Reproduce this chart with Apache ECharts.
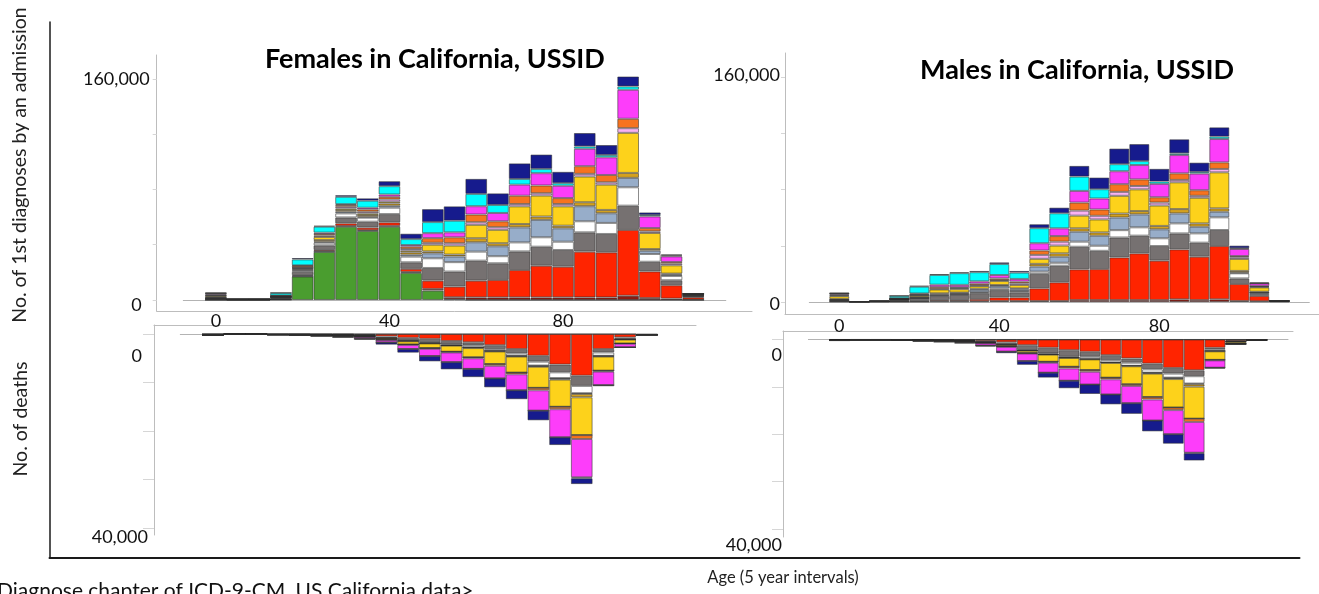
<!DOCTYPE html>
<html>
<head>
<meta charset="utf-8">
<title>Diagnoses and deaths by age, California (USSID)</title>
<script src="https://cdn.jsdelivr.net/npm/echarts@6.0.0/dist/echarts.min.js"></script>
<style>
html,body{margin:0;padding:0;background:#fff;}
#chart{width:1319px;height:594px;}
</style>
</head>
<body>
<div id="chart"></div>
<script>
// ---------------- DATA (values in thousands) ----------------
const ageGroups = ['0','5','10','15','20','25','30','35','40','45','50','55','60','65','70','75','80','85','90','95','100','105','110'];
const xTickLabels = ['0','40','80'];
const admTickValues = [0,40,80,120,160];
const admLabelValues = [0,160];
const admLabelTexts = ['0','160,000'];
const deathTickValues = [0,10,20,30,40];
const deathLabelValues = [0,40];
const deathLabelTexts = ['0','40,000'];

const chapterNames = [
  'Pregnancy & childbirth (630–679)',
  'Infectious & parasitic (001–139)',
  'Circulatory system (390–459)',
  'Neoplasms (140–239)',
  'Endocrine & metabolic (240–279)',
  'Digestive system (520–579)',
  'Genitourinary system (580–629)',
  'Respiratory system (460–519)',
  'Nervous system (320–389)',
  'Mental disorders (290–319)',
  'Musculoskeletal (710–739)',
  'Injury & poisoning (800–999)',
  'Symptoms & ill-defined (780–799)'
];

// Females – 1st diagnoses by an admission (ages 0..110, 5-year groups)
const fAdmPreg   = [0,0,0,0.3,17.0,34.8,53.1,50.0,53.1,19.6,6.8,0.5,0,0,0,0,0,0,0,0,0,0,0];
const fAdmInfect = [0.3,0.1,0.1,0.2,0.3,0.4,0.5,0.5,0.6,0.7,1.2,1.5,1.9,1.9,1.9,1.9,1.9,1.9,1.9,3.1,1.4,1.0,0.3];
const fAdmCirc   = [0.4,0.1,0.1,0.2,0.7,1.0,1.9,1.9,2.5,2.2,6.0,7.7,12.1,12.6,19.8,22.9,22.2,33.1,32.6,47.6,19.3,9.7,1.7];
const fAdmNeo    = [0.4,0.2,0.2,0.8,2.4,3.4,4.3,4.3,6.0,4.8,9.2,10.9,14.5,12.1,13.5,13.8,12.1,14.0,13.3,17.6,7.0,3.6,0.5];
const fAdmEndo   = [0.2,0,0,0.3,1.0,1.9,2.9,2.9,4.6,4.1,7.0,6.8,6.5,5.1,6.5,6.8,6.0,8.0,8.0,13.3,5.6,3.1,0.4];
const fAdmDig    = [0.2,0,0,0.2,0.5,0.7,1.2,0.7,1.4,1.4,3.6,4.1,6.8,7.2,10.9,12.6,9.7,10.9,7.0,6.8,2.4,1.0,0.2];
const fAdmGu     = [0.5,0,0,0.3,0.8,1.2,1.2,1.2,1.7,1.7,1.4,1.4,2.9,2.2,2.4,2.4,1.9,2.9,2.4,3.6,1.2,0.7,0.2];
const fAdmResp   = [1.0,0.1,0.1,0.3,0.5,2.2,1.2,1.2,1.2,1.2,4.8,6.5,9.7,9.7,12.8,15.2,14.0,18.6,18.3,29.0,11.6,6.0,0.7];
const fAdmNerv   = [0.3,0,0,0.1,0.3,1.0,1.2,1.2,1.7,1.2,1.4,1.7,1.9,1.9,1.7,1.7,1.7,1.9,1.7,3.4,1.2,1.2,0.1];
const fAdmMent   = [0.6,0,0,0.3,1.2,1.2,1.2,1.7,1.9,1.7,3.4,4.3,5.6,4.3,6.0,5.6,4.3,5.6,5.3,6.8,2.4,1.2,0.1];
const fAdmMusc   = [0.8,0,0,0.3,0.4,1.0,0.7,1.2,1.7,1.2,3.6,3.6,6.0,6.0,8.0,8.9,8.9,12.6,12.8,21.0,8.4,4.1,0.4];
const fAdmInj    = [0.2,0.1,0.1,1.8,4.3,4.3,5.3,5.1,6.0,4.3,8.0,8.4,8.9,5.8,4.1,3.1,1.9,1.7,1.7,2.4,1.0,0.7,0];
const fAdmSym    = [0.5,0,0.1,0.3,1.0,0.7,1.2,1.7,3.6,3.9,9.4,10.4,10.9,8.4,11.3,10.4,8.2,9.7,7.2,7.2,1.9,0.7,0.2];

// Males – 1st diagnoses by an admission
const mAdmInfect = [0.3,0.1,0.2,0.2,0.3,0.5,0.5,0.6,0.7,0.7,0.7,0.7,1.4,1.4,1.4,1.4,1.4,1.9,1.4,1.9,0.7,0.5,0.4];
const mAdmCirc   = [0.3,0.1,0.1,0.3,0.4,0.9,0.9,1.5,2.6,2.6,9.0,13.3,21.8,22.0,30.3,33.2,28.0,35.5,30.8,37.9,12.1,3.8,0.3];
const mAdmNeo    = [0.6,0.1,0.2,0.8,1.6,2.8,3.6,4.2,5.2,3.6,10.2,11.8,16.1,13.0,14.2,12.6,10.4,11.4,10.0,11.4,4.0,1.4,0];
const mAdmEndo   = [0.2,0,0,0.2,0.4,0.5,0.5,0.7,1.2,0.9,1.7,2.1,3.6,3.6,5.2,5.9,5.5,7.1,6.6,9.0,3.6,0.9,0];
const mAdmDig    = [0.2,0,0,0.2,0.4,0.6,0.7,1.7,1.7,1.2,3.6,4.3,7.1,7.1,9.0,9.2,6.4,7.1,4.7,4.0,0.5,0.2,0];
const mAdmGu     = [0.5,0,0,0.2,0.4,0.9,0.5,0.7,0.7,0.7,1.9,2.4,2.4,2.4,2.8,2.4,2.4,3.1,2.4,2.4,1.2,0.5,0];
const mAdmResp   = [2.0,0,0,0.3,1.2,2.7,2.4,1.9,2.8,2.4,3.6,5.5,9.0,9.2,12.6,15.4,14.5,19.0,18.2,25.6,8.5,3.1,0];
const mAdmNerv   = [0.5,0,0,0.1,0.2,0.5,0.7,0.5,0.7,1.2,2.8,2.8,3.6,2.6,2.8,2.4,2.1,1.7,1.4,2.4,1.2,0.4,0];
const mAdmMent   = [0.6,0,0,0.2,0.5,1.2,0.7,1.2,1.2,1.2,3.1,4.0,5.7,4.5,5.5,4.7,3.8,4.7,4.0,4.7,0.9,0.5,0];
const mAdmMusc   = [0.8,0,0,0.2,0.7,1.7,1.7,1.7,2.4,1.9,5.2,5.5,8.3,7.8,9.2,10.2,9.5,13.0,11.8,16.6,5.0,1.9,0];
const mAdmInj    = [0.1,0,0,1.7,4.8,6.9,8.3,6.5,7.8,4.5,10.7,10.7,10.2,6.6,5.0,2.8,1.7,1.2,1.2,1.7,0.5,0.1,0];
const mAdmSym    = [0.5,0,0.1,0.1,0.7,0.7,0.7,0.9,1.2,1.2,2.8,4.0,7.6,8.3,11.1,12.1,9.0,10.0,6.6,6.6,1.9,0.7,0];

// Females – deaths (ages 0..100)
const fDthInfect = [0,0,0,0,0,0,0,0,0,0,0,0,0,0,0,0,0,0,0,0,0.1];
const fDthCirc   = [0.05,0,0,0.05,0.05,0.08,0.1,0.2,0.5,0.8,1.0,1.45,1.7,2.3,3.1,4.5,6.3,8.6,3.1,0.7,0.05];
const fDthNeo    = [0.1,0.05,0.05,0.05,0.05,0.08,0.1,0.15,0.35,0.55,0.7,0.7,0.7,0.8,0.9,1.2,1.6,2.1,0.7,0.35,0];
const fDthEndo   = [0,0,0,0,0,0,0.02,0.03,0.05,0.1,0.2,0.2,0.4,0.4,0.5,0.8,1.2,1.5,0.7,0.1,0];
const fDthDig    = [0,0,0,0,0,0,0,0,0,0,0,0,0,0,0.05,0.1,0.1,0.15,0.05,0,0];
const fDthGu     = [0.05,0,0,0,0,0,0.03,0.02,0,0.05,0.05,0.05,0.1,0.1,0.1,0.15,0.2,0.7,0.1,0,0];
const fDthResp   = [0,0,0,0.03,0.05,0.08,0.12,0.2,0.3,0.65,0.95,1.25,1.9,2.6,3.3,4.35,5.6,7.8,2.9,0.8,0];
const fDthNerv   = [0,0,0,0,0,0,0,0,0,0,0,0,0,0,0,0,0,0,0,0,0];
const fDthMent   = [0,0,0,0,0,0,0.02,0.03,0.03,0.1,0.15,0.15,0.2,0.35,0.35,0.5,0.5,0.8,0.2,0.05,0];
const fDthMusc   = [0,0.03,0.03,0.04,0.12,0.16,0.2,0.35,0.5,0.85,1.5,2.0,2.2,2.6,3.3,4.2,5.8,7.9,2.8,0.75,0];
const fDthInj    = [0,0,0,0,0,0,0,0,0,0,0,0,0,0,0,0,0,0.2,0,0,0];
const fDthSym    = [0.05,0.02,0.02,0.03,0.08,0.1,0.16,0.22,0.47,0.75,1.1,1.5,1.7,1.85,1.85,2.0,1.6,1.2,0.2,0,0];

// Males – deaths (ages 0..100)
const mDthInfect = [0,0,0,0,0,0,0,0,0,0,0,0,0,0,0,0,0,0,0,0,0.05];
const mDthCirc   = [0.05,0,0,0.05,0.08,0.1,0.15,0.3,0.6,1.2,1.75,2.25,2.6,3.3,4.0,5.1,6.0,6.5,1.75,0.3,0.05];
const mDthNeo    = [0.1,0.05,0.05,0.05,0.08,0.1,0.15,0.25,0.5,1.05,1.2,1.4,1.05,1.05,0.9,1.2,1.2,1.25,0.3,0.1,0];
const mDthEndo   = [0,0,0,0,0,0,0.02,0.03,0.05,0.1,0.2,0.2,0.5,0.5,0.65,0.7,0.85,1.55,0.35,0.05,0];
const mDthDig    = [0,0,0,0,0,0,0,0,0,0,0,0,0,0,0,0.05,0.1,0.15,0.05,0,0];
const mDthGu     = [0.03,0,0,0,0,0,0,0.02,0.02,0.02,0.05,0.05,0.05,0.1,0.1,0.15,0.2,0.5,0.05,0.05,0];
const mDthResp   = [0.02,0,0,0.02,0.04,0.05,0.08,0.15,0.33,0.5,1.5,1.85,2.25,3.1,3.8,4.95,6.0,6.75,1.8,0.35,0];
const mDthNerv   = [0,0,0,0,0,0,0,0,0,0,0,0,0,0,0,0,0,0,0,0,0];
const mDthMent   = [0,0,0,0,0,0,0.02,0.03,0.05,0.08,0.2,0.35,0.35,0.35,0.35,0.5,0.55,0.7,0.1,0,0];
const mDthMusc   = [0,0.03,0.03,0.05,0.12,0.2,0.25,0.5,1.0,1.6,2.1,2.6,2.7,3.2,3.65,4.45,5.1,6.5,1.55,0.15,0];
const mDthInj    = [0,0,0,0,0,0,0,0,0,0,0,0,0,0,0,0,0,0.1,0,0,0];
const mDthSym    = [0.05,0.02,0.02,0.03,0.08,0.1,0.13,0.22,0.35,0.8,1.05,1.6,2.0,2.1,2.25,2.3,2.0,1.55,0.2,0,0];

// ---------------- STYLE ----------------
const chapterColors = ['#4a9d2f','#8c1c13','#ff2400','#767171','#ffffff','#97adc9','#d4a11e','#fdd21b','#f9b3f3','#f7731f','#fd3dfa','#00ffff','#161b8d'];
const FONT = "Lato, 'Liberation Sans', sans-serif";
const BORDER = 'rgba(45,45,45,0.55)';
const FRAME = '#bdbdbd';

const fAdm = [fAdmPreg,fAdmInfect,fAdmCirc,fAdmNeo,fAdmEndo,fAdmDig,fAdmGu,fAdmResp,fAdmNerv,fAdmMent,fAdmMusc,fAdmInj,fAdmSym];
const mAdm = [null,mAdmInfect,mAdmCirc,mAdmNeo,mAdmEndo,mAdmDig,mAdmGu,mAdmResp,mAdmNerv,mAdmMent,mAdmMusc,mAdmInj,mAdmSym];
const fDth = [null,fDthInfect,fDthCirc,fDthNeo,fDthEndo,fDthDig,fDthGu,fDthResp,fDthNerv,fDthMent,fDthMusc,fDthInj,fDthSym];
const mDth = [null,mDthInfect,mDthCirc,mDthNeo,mDthEndo,mDthDig,mDthGu,mDthResp,mDthNerv,mDthMent,mDthMusc,mDthInj,mDthSym];

// ---------------- LAYOUT ----------------
const grids = [
  {left:49.5, top:22, width:1250, height:536},     // 0 outer frame
  {left:156.7, top:55, width:595.3, height:256},    // 1 F adm frame
  {left:183.3, top:55, width:542.5, height:256},    // 2 F adm bars
  {left:154, top:325, width:542, height:210},       // 3 F death frame
  {left:180.3, top:325, width:477.4, height:210},   // 4 F death bars
  {left:785, top:53, width:534, height:261},        // 5 M adm frame
  {left:809.3, top:53, width:500, height:261},      // 6 M adm bars
  {left:783, top:331, width:510, height:206},       // 7 M death frame
  {left:808.4, top:331, width:479.6, height:206}    // 8 M death bars
].map(g => Object.assign({outerBoundsMode:'none', containLabel:false}, g));

const range = {
  fAdm: {min:-7.964, max:177.376},
  mAdm: {min:-8.533, max:177.067},
  fDth: {min:-1.856, max:41.443},
  mDth: {min:-1.794, max:41.689}
};

const fAdmCats = [' '].concat(ageGroups, ['  ']);
const fDthCats = [' '].concat(ageGroups.slice(0, 21));
const mAdmCats = [' '].concat(ageGroups, ['  ']);
const mDthCats = [' '].concat(ageGroups.slice(0, 22));

function rich(padTop, padRight, padBottom) {
  return {fontSize:18, fontFamily:FONT, color:'#111', padding:[padTop, padRight, padBottom || 0, 0]};
}

function frameX(gi, pos) {
  return {gridIndex:gi, type:'value', min:0, max:1, position:pos,
    axisLine:{show:true, onZero:false, lineStyle:{color:FRAME, width:1}},
    axisTick:{show:false}, axisLabel:{show:false}, splitLine:{show:false}};
}
function frameY(gi, r, inverse, ticks, labVals, labTexts, margin, richLo, richHi, tickLen) {
  return {gridIndex:gi, type:'value', min:r.min, max:r.max, inverse:inverse,
    axisLine:{show:true, onZero:false, lineStyle:{color:FRAME, width:1}},
    axisTick:{show:true, customValues:ticks, length:tickLen, lineStyle:{color:'#d6d6d6'}},
    axisLabel:{show:true, customValues:labVals, margin:margin,
      formatter: v => (v === labVals[0] ? '{lo|' : '{hi|') + labTexts[labVals.indexOf(v)] + '}',
      rich:{lo:richLo, hi:richHi}},
    splitLine:{show:false}};
}
function barX(gi, cats, showLabels, margin) {
  return {gridIndex:gi, type:'category', data:cats,
    axisLine:{show:true, onZero:true, lineStyle:{color:'#b3b3b3', width:1}},
    axisTick:{show:false},
    axisLabel:{show:showLabels, interval:(i, v) => xTickLabels.indexOf(v) >= 0, margin:margin,
      fontSize:18, fontFamily:FONT, color:'#111'},
    splitLine:{show:false}};
}
function barY(gi, r, inverse) {
  return {gridIndex:gi, type:'value', min:r.min, max:r.max, inverse:inverse, show:false, splitLine:{show:false}};
}

const xAxes = [
  {gridIndex:0, type:'value', min:0, max:1, position:'bottom', axisLine:{show:true, onZero:false, lineStyle:{color:'#1a1a1a', width:2}}, axisTick:{show:false}, axisLabel:{show:false}, splitLine:{show:false}},
  frameX(1, 'bottom'),
  barX(2, fAdmCats, true, 1),
  frameX(3, 'top'),
  barX(4, fDthCats, false, 10),
  frameX(5, 'bottom'),
  barX(6, mAdmCats, true, 3),
  frameX(7, 'top'),
  barX(8, mDthCats, false, 10)
];
const yAxes = [
  {gridIndex:0, type:'value', min:0, max:1, axisLine:{show:true, onZero:false, lineStyle:{color:'#1a1a1a', width:1.5}}, axisTick:{show:false}, axisLabel:{show:false}, splitLine:{show:false}},
  frameY(1, range.fAdm, false, admTickValues, admLabelValues, admLabelTexts, 7, rich(10, 8), rich(0, 0), 4),
  barY(2, range.fAdm, false),
  frameY(3, range.fDth, true, deathTickValues, deathLabelValues, deathLabelTexts, 6, rich(44, 6), rich(18, 0), 11),
  barY(4, range.fDth, true),
  frameY(5, range.mAdm, false, admTickValues, admLabelValues, admLabelTexts, 5, rich(4, 0), rich(0, 0, 4), 4),
  barY(6, range.mAdm, false),
  frameY(7, range.mDth, true, deathTickValues, deathLabelValues, deathLabelTexts, 1, rich(31, 0), rich(32, 0), 11),
  barY(8, range.mDth, true)
];

const series = [];
function addPanel(list, axisIdx, stack, padStart, padEnd) {
  list.forEach((arr, c) => {
    if (!arr) return;
    series.push({
      type:'bar', name:chapterNames[c], xAxisIndex:axisIdx, yAxisIndex:axisIdx, stack:stack,
      barCategoryGap:'0%', barGap:'0%',
      data: Array(padStart).fill(null).concat(arr, Array(padEnd).fill(null)),
      itemStyle:{color:chapterColors[c], borderColor:BORDER, borderWidth:1},
      emphasis:{disabled:true}, silent:true
    });
  });
}
addPanel(fAdm, 2, 'fAdm', 1, 1);
addPanel(fDth, 4, 'fDth', 1, 0);
addPanel(mAdm, 6, 'mAdm', 1, 1);
addPanel(mDth, 8, 'mDth', 1, 1);

const chart = echarts.init(document.getElementById('chart'), null, {renderer:'canvas', width:1319, height:594});
chart.setOption({
  animation:false,
  backgroundColor:'#ffffff',
  textStyle:{fontFamily:FONT},
  title:[
    {text:'Females in California, USSID', left:265, top:46, padding:0,
     textStyle:{fontSize:27, fontWeight:'bold', fontFamily:FONT, color:'#000'}},
    {text:'Males in California, USSID', left:920, top:57, padding:0,
     textStyle:{fontSize:27, fontWeight:'bold', fontFamily:FONT, color:'#000'}}
  ],
  grid:grids,
  xAxis:xAxes,
  yAxis:yAxes,
  series:series,
  graphic:[
    {type:'text', x:20, y:165, rotation:Math.PI/2, silent:true,
     style:{text:'No. of 1st diagnoses by an admission', fontSize:19.5, fontFamily:FONT, fill:'#222', align:'center', verticalAlign:'middle'}},
    {type:'text', x:21, y:419, rotation:Math.PI/2, silent:true,
     style:{text:'No. of deaths', fontSize:19.5, fontFamily:FONT, fill:'#222', align:'center', verticalAlign:'middle'}},
    {type:'text', x:783, y:578, silent:true,
     style:{text:'Age (5 year intervals)', fontSize:16.5, fontFamily:FONT, fill:'#222', align:'center', verticalAlign:'middle'}},
    {type:'text', x:-3, y:581, silent:true,
     style:{text:'Diagnose chapter of ICD-9-CM, US California data>', fontSize:21, fontFamily:FONT, fill:'#111', align:'left', verticalAlign:'top'}}
  ]
});
</script>
</body>
</html>
